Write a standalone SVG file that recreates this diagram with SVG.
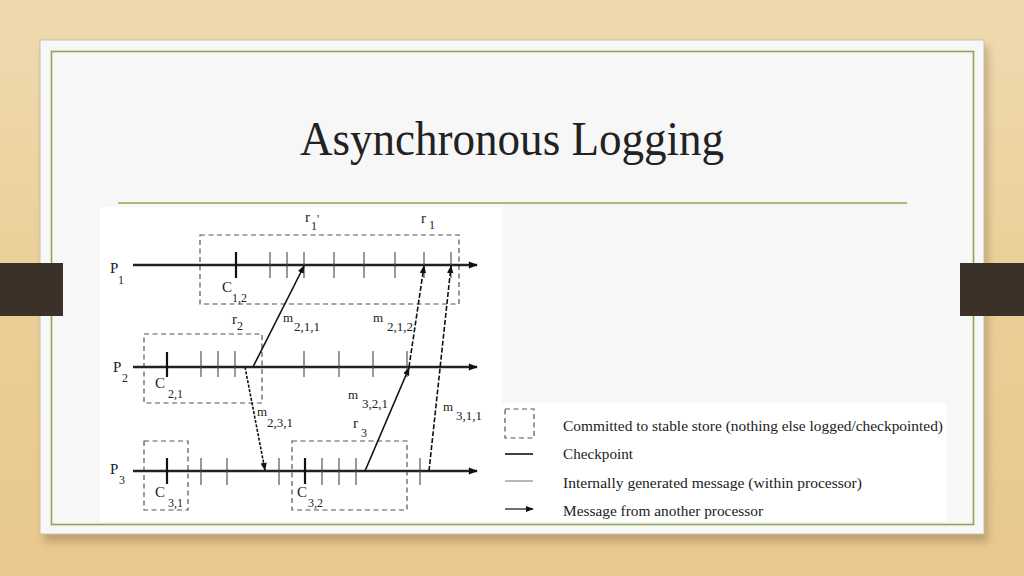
<svg xmlns="http://www.w3.org/2000/svg" width="1024" height="576" viewBox="0 0 1024 576">
<defs>
<linearGradient id="wood" x1="0" y1="0" x2="0" y2="1">
<stop offset="0" stop-color="#efdab0"/>
<stop offset="0.5" stop-color="#ebcf98"/>
<stop offset="1" stop-color="#e8c88c"/>
</linearGradient>
<filter id="sh" x="-5%" y="-5%" width="110%" height="115%"><feGaussianBlur stdDeviation="4"/></filter>
<marker id="ah" viewBox="0 0 10 10" refX="9" refY="5" markerWidth="8" markerHeight="8" markerUnits="userSpaceOnUse" orient="auto"><path d="M0,1 L10,5 L0,9 Z" fill="#111"/></marker>
<marker id="ahm" viewBox="0 0 10 10" refX="9" refY="5" markerWidth="10" markerHeight="9" markerUnits="userSpaceOnUse" orient="auto"><path d="M0,1 L10,5 L0,9 Z" fill="#111"/></marker>
</defs>
<style>
.t{font-family:"Liberation Serif","Times New Roman",serif;fill:#222}
.lbl{font-size:15px}
.sub{font-size:12px}
.ml{font-size:13px}
.proc{stroke:#222;stroke-width:2.4;fill:none}
.tick{stroke:#444;stroke-width:1.1}
.ck{stroke:#111;stroke-width:2.2}
.box{fill:none;stroke:#555;stroke-width:1.2;stroke-dasharray:5,3.5}
.msg{stroke:#111;stroke-width:1.6;fill:none}
.dash{stroke-dasharray:5,2}
.dot{stroke-dasharray:3,1.5}
.leg{font-size:15px}
</style>
<rect x="0" y="0" width="1024" height="576" fill="url(#wood)"/>
<rect x="44" y="46" width="944" height="496" fill="#8a7050" opacity="0.45" filter="url(#sh)"/>
<rect x="40" y="40" width="944" height="494" fill="#f7f7f7" stroke="#c8c0ad" stroke-width="1"/>
<rect x="51.5" y="51.5" width="922" height="473" fill="none" stroke="#8da84a" stroke-width="1.6"/>
<rect id="tab-left" x="0" y="263" width="63" height="53" fill="#3b3129"/>
<rect id="tab-right" x="960" y="263" width="64" height="53" fill="#3b3129"/>
<text id="title" class="t" x="512" y="155" font-size="48" text-anchor="middle" textLength="424" lengthAdjust="spacingAndGlyphs" fill="#333">Asynchronous Logging</text>
<line x1="118" y1="203" x2="907" y2="203" stroke="#8da84a" stroke-width="1.3"/>
<rect x="100" y="207" width="402" height="315" fill="#ffffff"/>
<rect x="502" y="403" width="444" height="119" fill="#ffffff"/>

<g id="commit-boxes">
<rect class="box" x="200" y="235" width="259" height="69"/>
<rect class="box" x="144" y="334" width="118" height="69"/>
<rect class="box" x="144" y="441" width="44" height="69"/>
<rect class="box" x="292" y="441" width="115" height="69"/>
</g>

<g id="P1">
<line class="proc" x1="133" y1="265" x2="477" y2="265" marker-end="url(#ahm)"/>
<line class="ck" x1="236" y1="252" x2="236" y2="278"/>
<g class="tick"><line x1="270" y1="252" x2="270" y2="278"/><line x1="287" y1="252" x2="287" y2="278"/><line x1="304" y1="252" x2="304" y2="278"/><line x1="334" y1="252" x2="334" y2="278"/><line x1="364" y1="252" x2="364" y2="278"/><line x1="395" y1="252" x2="395" y2="278"/><line x1="424" y1="252" x2="424" y2="278"/><line x1="451" y1="252" x2="451" y2="278"/></g>
<text class="t lbl" x="110" y="273">P</text><text class="t sub" x="118" y="284">1</text>
<text class="t lbl" x="222" y="292">C</text><text class="t sub" x="232" y="302">1,2</text>
<text class="t lbl" x="305" y="222">r</text><text class="t sub" x="311" y="230">1</text><text class="t sub" x="317" y="223">'</text>
<text class="t lbl" x="421" y="223">r</text><text class="t sub" x="429" y="229">1</text>
</g>

<g id="P2">
<line class="proc" x1="133" y1="367" x2="477" y2="367" marker-end="url(#ahm)"/>
<line class="ck" x1="167" y1="352" x2="167" y2="377"/>
<g class="tick"><line x1="201" y1="351" x2="201" y2="377"/><line x1="218" y1="351" x2="218" y2="377"/><line x1="235" y1="351" x2="235" y2="377"/><line x1="304" y1="351" x2="304" y2="377"/><line x1="339" y1="351" x2="339" y2="377"/><line x1="373" y1="351" x2="373" y2="377"/><line x1="407" y1="351" x2="407" y2="377"/></g>
<text class="t lbl" x="113" y="372">P</text><text class="t sub" x="122" y="382">2</text>
<text class="t lbl" x="155" y="388">C</text><text class="t sub" x="168" y="398">2,1</text>
<text class="t lbl" x="232" y="324">r</text><text class="t sub" x="237" y="330">2</text>
</g>

<g id="P3">
<line class="proc" x1="133" y1="471" x2="477" y2="471" marker-end="url(#ahm)"/>
<line class="ck" x1="167" y1="458" x2="167" y2="484"/>
<line class="ck" x1="305" y1="458" x2="305" y2="484"/>
<g class="tick"><line x1="201" y1="458" x2="201" y2="485"/><line x1="227" y1="458" x2="227" y2="485"/><line x1="279" y1="458" x2="279" y2="485"/><line x1="322" y1="458" x2="322" y2="485"/><line x1="339" y1="458" x2="339" y2="485"/><line x1="356" y1="458" x2="356" y2="485"/><line x1="420" y1="458" x2="420" y2="485"/></g>
<text class="t lbl" x="110" y="474">P</text><text class="t sub" x="119" y="484">3</text>
<text class="t lbl" x="155" y="497">C</text><text class="t sub" x="168" y="507">3,1</text>
<text class="t lbl" x="297" y="497">C</text><text class="t sub" x="308" y="507">3,2</text>
<text class="t lbl" x="353" y="428">r</text><text class="t sub" x="361" y="437">3</text>
</g>

<g id="connectors">
<line class="msg" x1="253" y1="367" x2="304" y2="266" marker-end="url(#ah)"/>
<line class="msg dash" x1="409" y1="367" x2="424" y2="266" marker-end="url(#ah)"/>
<line class="msg" x1="365" y1="471" x2="409" y2="368" marker-end="url(#ah)"/>
<line class="msg dash" x1="429" y1="471" x2="451" y2="266" marker-end="url(#ah)"/>
<line class="msg dot" x1="245" y1="367" x2="265" y2="470" marker-end="url(#ah)"/>
</g>

<g id="msg-labels">
<text class="t ml" x="283" y="322">m</text><text class="t ml" x="294" y="331">2,1,1</text>
<text class="t ml" x="373" y="322">m</text><text class="t ml" x="387" y="331">2,1,2</text>
<text class="t ml" x="348" y="399">m</text><text class="t ml" x="362" y="408">3,2,1</text>
<text class="t ml" x="443" y="411">m</text><text class="t ml" x="456" y="420">3,1,1</text>
<text class="t ml" x="257" y="416">m</text><text class="t ml" x="267" y="427">2,3,1</text>
</g>

<g id="legend">
<rect class="box" x="505" y="409" width="29" height="29" stroke-dasharray="4,3"/>
<text class="t leg" x="563" y="431" textLength="380" lengthAdjust="spacingAndGlyphs">Committed to stable store (nothing else logged/checkpointed)</text>
<line x1="505" y1="454" x2="533" y2="454" stroke="#111" stroke-width="1.6"/>
<text class="t leg" x="563" y="459" textLength="70" lengthAdjust="spacingAndGlyphs">Checkpoint</text>
<line x1="505" y1="481" x2="533" y2="481" stroke="#999" stroke-width="1.4"/>
<text class="t leg" x="563" y="488" textLength="299" lengthAdjust="spacingAndGlyphs">Internally generated message (within processor)</text>
<line x1="505" y1="509" x2="533" y2="509" stroke="#111" stroke-width="1.2" marker-end="url(#ah)"/>
<text class="t leg" x="563" y="516" textLength="200" lengthAdjust="spacingAndGlyphs">Message from another processor</text>
</g>
</svg>
